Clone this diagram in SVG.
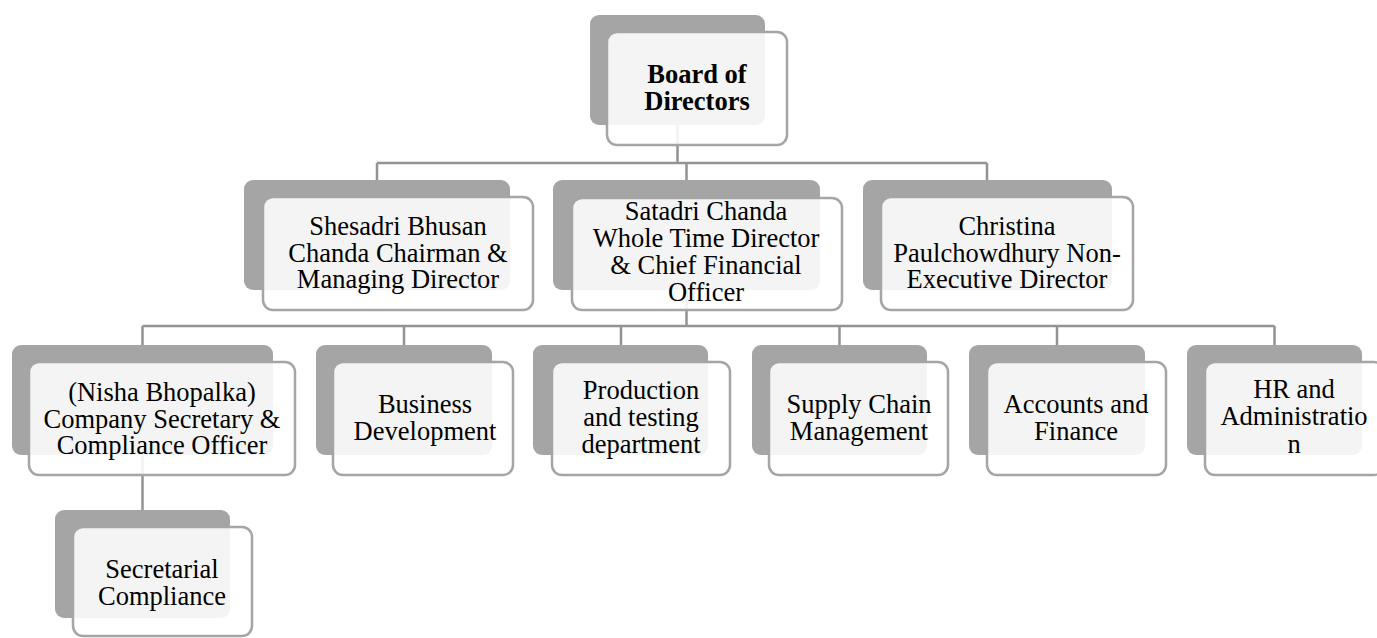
<svg xmlns="http://www.w3.org/2000/svg" width="1377" height="638" viewBox="0 0 1377 638" font-family="'Liberation Serif', Tinos, 'Times New Roman', 'Noto Serif', 'DejaVu Serif', serif">
<style>
.bg{fill:#ffffff}
.sh{fill:#a5a5a5}
.fr{fill:#ffffff;fill-opacity:0.88;stroke:#a5a5a5;stroke-width:2.5}
.cn{fill:none;stroke:#939393;stroke-width:2.5}
text{font-size:26.5px;fill:#000000;text-anchor:middle}
.b{font-weight:bold}
</style>
<rect class="bg" x="0" y="0" width="1377" height="638"/>
<g id="connectors">
<path class="cn" d="M677.5 125 V163 M377 163 H987 M377 163 V181 M686.5 163 V181 M987 163 V181"/>
<path class="cn" d="M686.5 290 V326 M142.5 326 H1274.5 M142.5 326 V345 M404 326 V345 M621 326 V345 M839.5 326 V345 M1057 326 V345 M1274.5 326 V345"/>
<path class="cn" d="M142.5 455 V510"/>
</g>
<g id="board">
<rect class="sh" x="590" y="15" width="175" height="110" rx="9"/>
<rect class="fr" x="607" y="32" width="180" height="113" rx="10"/>
<text class="b" x="697" y="83">Board of</text>
<text class="b" x="697" y="110">Directors</text>
</g>
<g id="shesadri">
<rect class="sh" x="244" y="180" width="266" height="110" rx="9"/>
<rect class="fr" x="263" y="197" width="270" height="113" rx="10"/>
<text x="398" y="235">Shesadri Bhusan</text>
<text x="398" y="262">Chanda Chairman &amp;</text>
<text x="398" y="288">Managing Director</text>
</g>
<g id="satadri">
<rect class="sh" x="553" y="180" width="267" height="110" rx="9"/>
<rect class="fr" x="572" y="198" width="270" height="112" rx="10"/>
<text x="706" y="220">Satadri Chanda</text>
<text x="706" y="247">Whole Time Director</text>
<text x="706" y="274">&amp; Chief Financial</text>
<text x="706" y="301">Officer</text>
</g>
<g id="christina">
<rect class="sh" x="863" y="180" width="249" height="110" rx="9"/>
<rect class="fr" x="881" y="197" width="252" height="113" rx="10"/>
<text x="1007" y="235">Christina</text>
<text x="1007" y="262">Paulchowdhury Non-</text>
<text x="1007" y="288">Executive Director</text>
</g>
<g id="nisha">
<rect class="sh" x="12" y="345" width="261" height="110" rx="9"/>
<rect class="fr" x="29" y="362" width="266" height="113" rx="10"/>
<text x="162" y="401">(Nisha Bhopalka)</text>
<text x="162" y="428">Company Secretary &amp;</text>
<text x="162" y="454">Compliance Officer</text>
</g>
<g id="business">
<rect class="sh" x="316" y="345" width="176" height="110" rx="9"/>
<rect class="fr" x="333" y="362" width="180" height="113" rx="10"/>
<text x="425" y="413">Business</text>
<text x="425" y="440">Development</text>
</g>
<g id="production">
<rect class="sh" x="533" y="345" width="175" height="110" rx="9"/>
<rect class="fr" x="552" y="362" width="178" height="113" rx="10"/>
<text x="641" y="399">Production</text>
<text x="641" y="426">and testing</text>
<text x="641" y="453">department</text>
</g>
<g id="supply">
<rect class="sh" x="752" y="345" width="175" height="110" rx="9"/>
<rect class="fr" x="769" y="362" width="179" height="113" rx="10"/>
<text x="859" y="413">Supply Chain</text>
<text x="859" y="440">Management</text>
</g>
<g id="accounts">
<rect class="sh" x="969" y="345" width="176" height="110" rx="9"/>
<rect class="fr" x="987" y="362" width="179" height="113" rx="10"/>
<text x="1076" y="413">Accounts and</text>
<text x="1076" y="440">Finance</text>
</g>
<g id="hr">
<rect class="sh" x="1187" y="345" width="175" height="110" rx="9"/>
<rect class="fr" x="1205" y="362" width="179" height="113" rx="10"/>
<text x="1294" y="398">HR and</text>
<text x="1294" y="425">Administratio</text>
<text x="1294" y="453">n</text>
</g>
<g id="secretarial">
<rect class="sh" x="55" y="510" width="175" height="108" rx="9"/>
<rect class="fr" x="73" y="527" width="179" height="109" rx="10"/>
<text x="162" y="578">Secretarial</text>
<text x="162" y="605">Compliance</text>
</g>
</svg>
